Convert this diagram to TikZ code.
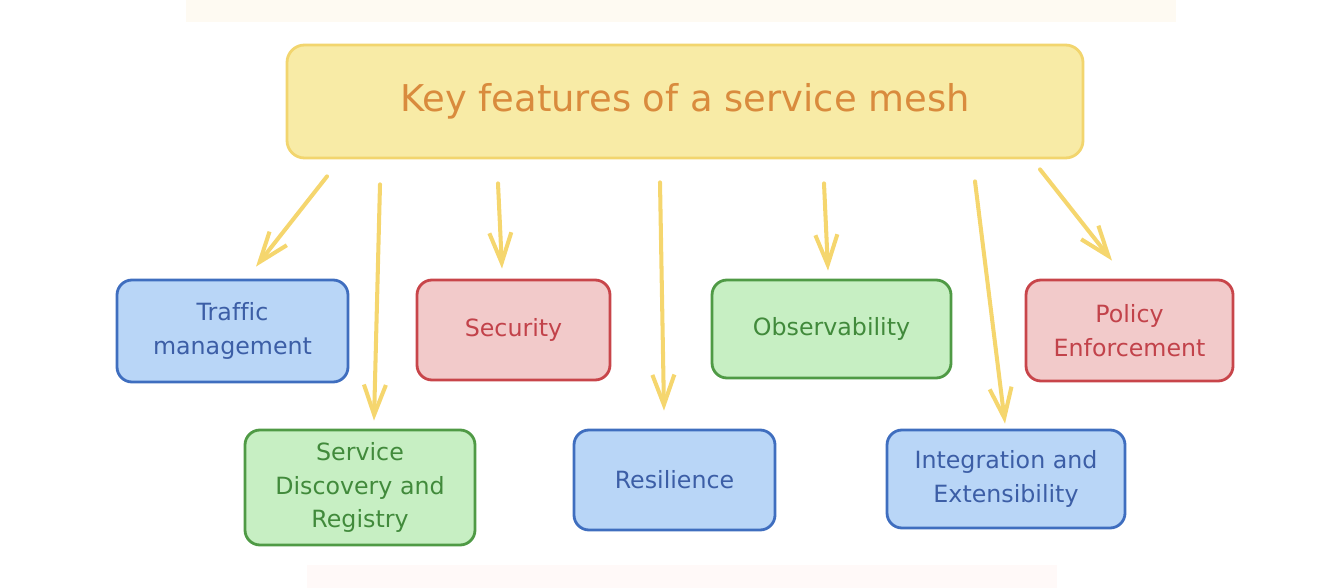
\documentclass[tikz,border=0pt]{standalone}
\usepackage{fontspec}
\setmainfont{DejaVu Sans}[Ligatures=CommonOff]
\usetikzlibrary{arrows.meta}

\definecolor{titlefill}{HTML}{F8EBA6}
\definecolor{titleline}{HTML}{F2D56E}
\definecolor{titletext}{HTML}{D98B3D}
\definecolor{bluefill}{HTML}{B9D6F7}
\definecolor{blueline}{HTML}{3F6EBF}
\definecolor{bluetext}{HTML}{3C5EA6}
\definecolor{redfill}{HTML}{F2CACA}
\definecolor{redline}{HTML}{C8454A}
\definecolor{redtext}{HTML}{C2424A}
\definecolor{greenfill}{HTML}{C7EFC3}
\definecolor{greenline}{HTML}{4F9A45}
\definecolor{greentext}{HTML}{418A3B}
\definecolor{arrowcol}{HTML}{F5D66E}
\definecolor{topstrip}{RGB}{254,250,242}
\definecolor{botstrip}{RGB}{255,249,248}

\tikzset{
  feature/.style={draw, rounded corners=0.3cm, line width=1.6pt, align=center,
    inner sep=2pt, font=\fontsize{13.5}{19}\selectfont},
  bluebox/.style={feature, fill=bluefill, draw=blueline, text=bluetext},
  redbox/.style={feature, fill=redfill, draw=redline, text=redtext},
  greenbox/.style={feature, fill=greenfill, draw=greenline, text=greentext},
  flow/.style={draw=arrowcol, line width=2.3pt, line cap=round,
    -{Straight Barb[length=0.6cm, width=0.44cm, line width=2.3pt]}}
}

\begin{document}
\begin{tikzpicture}
\useasboundingbox (0,0) rectangle (26.48,-11.76);
% faint strips at the edges
\fill[topstrip] (3.72,0) rectangle (23.52,-0.44);
\fill[botstrip] (6.14,-11.30) rectangle (21.14,-11.76);

\node[draw=titleline, fill=titlefill, text=titletext, rounded corners=0.35cm,
  line width=1.6pt, minimum width=15.92cm, minimum height=2.26cm,
  font=\fontsize{21}{25}\selectfont] (title) at (13.70,-2.03) {Key features of a service mesh};

\node[bluebox, minimum width=4.62cm, minimum height=2.04cm] (traffic) at (4.65,-6.62) {Traffic\\management};
\node[redbox, minimum width=3.86cm, minimum height=2.00cm] (security) at (10.27,-6.60) {Security};
\node[greenbox, minimum width=4.78cm, minimum height=1.96cm] (observ) at (16.63,-6.58) {Observability};
\node[redbox, minimum width=4.14cm, minimum height=2.02cm] (policy) at (22.59,-6.61) {Policy\\Enforcement};
\node[greenbox, minimum width=4.60cm, minimum height=2.30cm] (discovery) at (7.20,-9.75) {Service\\Discovery and\\Registry};
\node[bluebox, minimum width=4.02cm, minimum height=2.00cm] (resil) at (13.49,-9.60) {Resilience};
\node[bluebox, minimum width=4.76cm, minimum height=1.96cm] (integ) at (20.12,-9.58) {Integration and\\Extensibility};

\foreach \dst/\sx/\sy/\ex/\ey in {traffic/-7.16/-0.34/0.47/0.24,
    discovery/-6.10/-0.50/0.28/0.16, security/-3.74/-0.48/-0.23/0.20,
    resil/-0.50/-0.46/-0.21/0.36, observ/2.78/-0.48/-0.07/0.16,
    integ/5.80/-0.44/-0.02/0.10, policy/7.10/-0.20/-0.35/0.36} {
  \draw[flow] ([xshift=\sx cm, yshift=\sy cm]title.south) -- ([xshift=\ex cm, yshift=\ey cm]\dst.north);
}
\end{tikzpicture}
\end{document}
